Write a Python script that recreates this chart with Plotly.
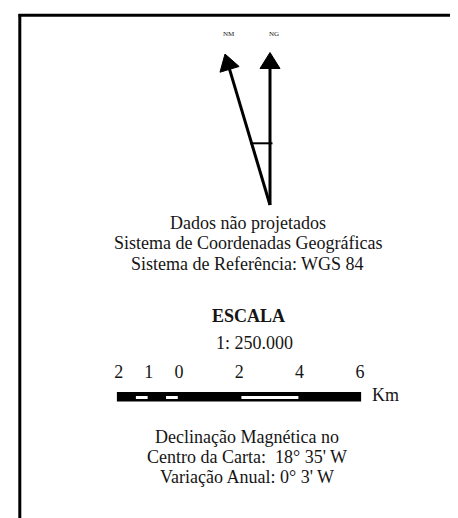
import math
import plotly.graph_objects as go

W, H = 458, 518
OFF = 8  # page body margin in the browser

# ---- data ----
scale_km = [-2, -1, 0, 2, 4, 6]
scale_labels = ["2", "1", "0", "2", "4", "6"]
scale_black = [(-2, 6)]
scale_white = [(-1.5, -1.0), (-0.5, 0.0), (2.0, 4.0)]
scale_unit = "Km"
scale_ratio = "1: 250.000"
info_lines = ["Dados não projetados",
              "Sistema de Coordenadas Geográficas",
              "Sistema de Referência: WGS 84"]
decl_lines = ["Declinação Magnética no",
              "Centro da Carta:  18° 35' W",
              "Variação Anual: 0° 3' W"]
north_labels = ["NM", "NG"]

# ---- layout constants ----
PX_PER_KM = 30.15
ZERO_PX = 179.0
FONT = "Liberation Serif"
TXT = "#151515"

def px(x):
    return (x - OFF) / W

fig = go.Figure()

# scale labels drawn on the km axis
fig.add_trace(go.Scatter(
    x=scale_km, y=[373] * len(scale_km), mode="text", text=scale_labels,
    textfont=dict(family=FONT, size=18, color=TXT), hoverinfo="skip",
    showlegend=False, cliponaxis=False))

shapes = []
# border (top and left)
shapes.append(dict(type="line", xref="paper", yref="y", x0=px(18.5), x1=px(480),
                   y0=15.3, y1=15.3, line=dict(color="black", width=3)))
shapes.append(dict(type="line", xref="paper", yref="y", x0=px(19.8), x1=px(19.8),
                   y0=14, y1=540, line=dict(color="black", width=3)))

# scale bar
for a, b in scale_black:
    shapes.append(dict(type="rect", xref="x", yref="y", x0=a - 0.06, x1=b + 0.04,
                       y0=392, y1=401.5, fillcolor="black", line=dict(width=0)))
for a, b in scale_white:
    shapes.append(dict(type="rect", xref="x", yref="y", x0=a + 0.07, x1=b - 0.04,
                       y0=396, y1=399, fillcolor="white", line=dict(width=0)))

# north arrows
base = (270.0, 205.0)
tip_ng = (270.0, 52.5)
tip_nm = (225.0, 54.0)
head_len, head_half = 16.0, 10.0

def arrow(base, tip):
    dx, dy = tip[0] - base[0], tip[1] - base[1]
    L = math.hypot(dx, dy)
    ux, uy = dx / L, dy / L
    bx, by = tip[0] - ux * head_len, tip[1] - uy * head_len
    pxv, pyv = -uy, ux
    c1 = (bx + pxv * head_half, by + pyv * head_half)
    c2 = (bx - pxv * head_half, by - pyv * head_half)
    shapes.append(dict(type="line", xref="paper", yref="y",
                       x0=px(base[0]), y0=base[1], x1=px(bx + ux * 2), y1=by + uy * 2,
                       line=dict(color="black", width=3)))
    path = "M {} {} L {} {} L {} {} Z".format(px(tip[0]), tip[1], px(c1[0]), c1[1],
                                            px(c2[0]), c2[1])
    shapes.append(dict(type="path", xref="paper", yref="y", path=path,
                       fillcolor="black", line=dict(color="black", width=1)))

arrow(base, tip_ng)
arrow(base, tip_nm)
# crossbar
shapes.append(dict(type="line", xref="paper", yref="y", x0=px(250), x1=px(272.5),
                   y0=143.3, y1=143.3, line=dict(color="black", width=2)))

ann = []
def text(x, y, s, size=18, bold=False):
    ann.append(dict(x=px(x), y=y, xref="paper", yref="y",
                    text="<b>%s</b>" % s if bold else s, showarrow=False,
                    xanchor="center", yanchor="middle",
                    font=dict(family=FONT, size=size, color=TXT)))

text(229.3, 34.2, north_labels[0], size=7)
text(273.5, 34.2, north_labels[1], size=7)
for i, s in enumerate(info_lines):
    text(247.5, 223 + 20.3 * i, s)
text(248, 316, "ESCALA", bold=True)
text(254, 342.5, scale_ratio)
text(385, 394.5, scale_unit)
for i, s in enumerate(decl_lines):
    text(247, 436.5 + 20.3 * i, s)

km_left = (OFF - ZERO_PX) / PX_PER_KM
fig.update_layout(
    width=W, height=H, margin=dict(l=0, r=0, t=0, b=0),
    paper_bgcolor="white", plot_bgcolor="white",
    xaxis=dict(range=[km_left, km_left + W / PX_PER_KM],
               visible=False, fixedrange=True),
    yaxis=dict(range=[H + OFF, OFF], visible=False, fixedrange=True),
    shapes=shapes, annotations=ann, showlegend=False,
)

fig.write_html("out.html")
